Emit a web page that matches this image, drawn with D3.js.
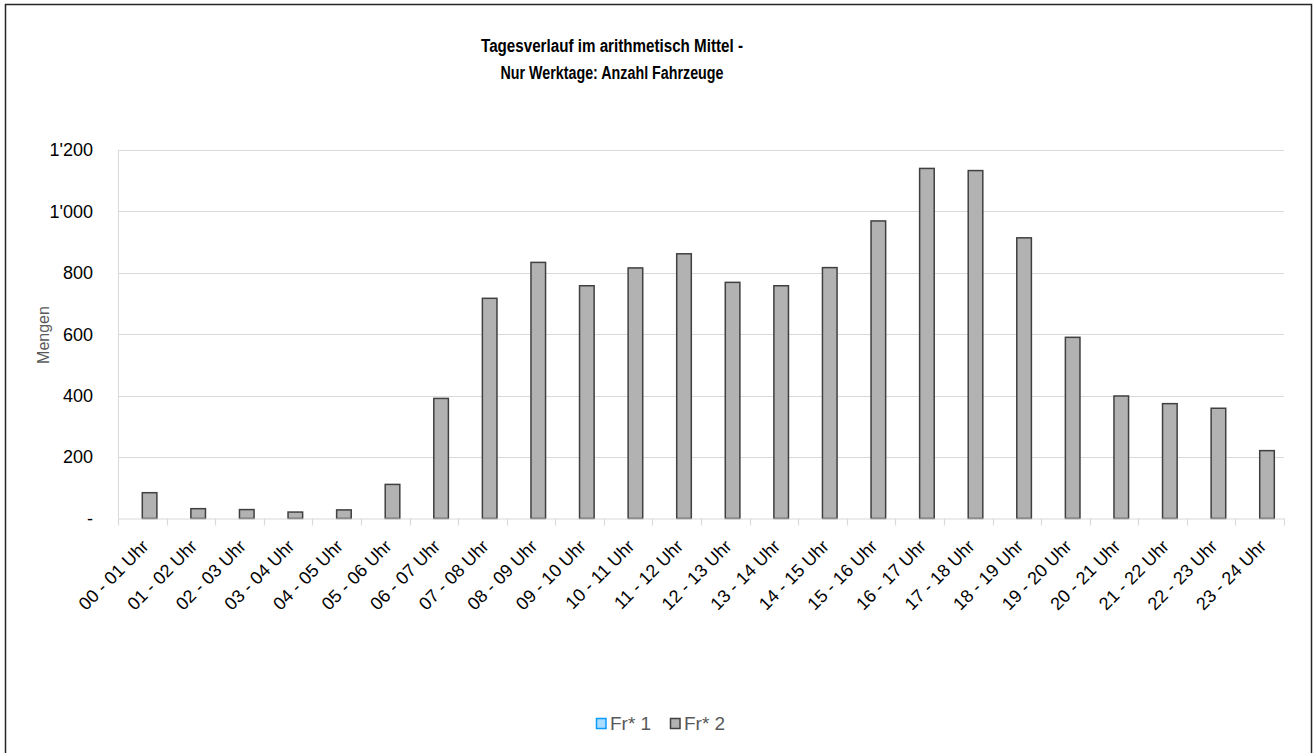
<!DOCTYPE html>
<html>
<head>
<meta charset="utf-8">
<script src="https://cdn.jsdelivr.net/npm/d3@7"></script>
<style>
  html, body { margin: 0; padding: 0; background: #fff; }
  svg { display: block; }
</style>
</head>
<body>
<svg id="chart" width="1314" height="753"></svg>
<script>
// ---- Data ----
const categories = [
  "00 - 01 Uhr","01 - 02 Uhr","02 - 03 Uhr","03 - 04 Uhr","04 - 05 Uhr","05 - 06 Uhr",
  "06 - 07 Uhr","07 - 08 Uhr","08 - 09 Uhr","09 - 10 Uhr","10 - 11 Uhr","11 - 12 Uhr",
  "12 - 13 Uhr","13 - 14 Uhr","14 - 15 Uhr","15 - 16 Uhr","16 - 17 Uhr","17 - 18 Uhr",
  "18 - 19 Uhr","19 - 20 Uhr","20 - 21 Uhr","21 - 22 Uhr","22 - 23 Uhr","23 - 24 Uhr"
];
const seriesNames = ["Fr* 1", "Fr* 2"];
const fr1Values = [null,null,null,null,null,null,null,null,null,null,null,null,
                   null,null,null,null,null,null,null,null,null,null,null,null];
const fr2Values = [84, 32, 29, 21, 28, 111, 391, 717, 834, 758, 816, 862,
                   769, 758, 817, 969, 1140, 1133, 914, 590, 399, 374, 359, 221];
const yTicks = [0, 200, 400, 600, 800, 1000, 1200];
const titleLines = ["Tagesverlauf im arithmetisch Mittel -", "Nur Werktage: Anzahl Fahrzeuge"];
const yTitle = "Mengen";

// ---- Layout ----
const svg = d3.select("#chart");
const plot = { left: 118, right: 1284, top: 150, bottom: 518.5 };
const seriesFill = { "Fr* 1": "#a9dcff", "Fr* 2": "#b2b2b2" };
const seriesStroke = { "Fr* 1": "#0a9bff", "Fr* 2": "#404040" };

// outer border
svg.append("rect")
  .attr("x", 5.5).attr("y", 4.5)
  .attr("width", 1306).attr("height", 760)
  .attr("fill", "#fff").attr("stroke", "#262626").attr("stroke-width", 1.5);

// scales
const x0 = d3.scaleBand().domain(categories).range([plot.left, plot.right]).paddingInner(0).paddingOuter(0);
const x1 = d3.scaleBand().domain(seriesNames).range([0, x0.bandwidth()]).paddingInner(0).paddingOuter(0.664);
const y = d3.scaleLinear().domain([0, 1200]).range([plot.bottom, plot.top]);

const loc = d3.formatLocale({ decimal: ".", thousands: "'", grouping: [3], currency: ["", ""] });
const fmt = v => v === 0 ? "-" : loc.format(",")(v);

// gridlines
svg.append("g").selectAll("line").data(yTicks.filter(d => d !== 0)).join("line")
  .attr("x1", plot.left).attr("x2", plot.right)
  .attr("y1", d => Math.round(y(d)) + 0.5).attr("y2", d => Math.round(y(d)) + 0.5)
  .attr("stroke", "#d9d9d9").attr("stroke-width", 1);

// left axis line
svg.append("line")
  .attr("x1", plot.left + 0.5).attr("x2", plot.left + 0.5)
  .attr("y1", y(1200)).attr("y2", plot.bottom)
  .attr("stroke", "#d9d9d9").attr("stroke-width", 1);

// y tick labels
svg.append("g").selectAll("text").data(yTicks).join("text")
  .attr("x", 93).attr("y", d => y(d)).attr("dy", "0.35em")
  .attr("text-anchor", "end")
  .attr("font-family", "'Liberation Sans', Arial, sans-serif")
  .attr("font-size", 18).attr("fill", "#000")
  .text(fmt);

// y title
svg.append("text")
  .attr("transform", "translate(49,335) rotate(-90)")
  .attr("text-anchor", "middle")
  .attr("font-family", "'Liberation Sans', Arial, sans-serif")
  .attr("font-size", 16).attr("fill", "#595959")
  .text(yTitle);

// bars
const rows = categories.map((c, i) => ({ cat: c, vals: [
  { s: "Fr* 1", v: fr1Values[i] }, { s: "Fr* 2", v: fr2Values[i] } ] }));
const groups = svg.append("g").selectAll("g").data(rows).join("g")
  .attr("transform", d => `translate(${x0(d.cat)},0)`);
groups.selectAll("rect").data(d => d.vals.filter(v => v.v != null)).join("rect")
  .attr("x", d => x1(d.s)).attr("width", x1.bandwidth())
  .attr("y", d => y(d.v)).attr("height", d => y(0) - y(d.v))
  .attr("fill", d => seriesFill[d.s]).attr("stroke", d => seriesStroke[d.s]).attr("stroke-width", 1.5);

// x axis line + ticks
const xAxisG = svg.append("g");
xAxisG.append("line")
  .attr("x1", plot.left).attr("x2", plot.right)
  .attr("y1", plot.bottom + 0.5).attr("y2", plot.bottom + 0.5)
  .attr("stroke", "#d9d9d9").attr("stroke-width", 1.2);
const tickPos = categories.map(c => x0(c)).concat([plot.right]);
xAxisG.selectAll("line.tk").data(tickPos).join("line").attr("class", "tk")
  .attr("x1", d => Math.round(d) + 0.5).attr("x2", d => Math.round(d) + 0.5)
  .attr("y1", plot.bottom).attr("y2", plot.bottom + 7)
  .attr("stroke", "#d9d9d9").attr("stroke-width", 1.2);

// x labels
svg.append("g").selectAll("text").data(categories).join("text")
  .attr("transform", d => `translate(${x0(d) + x0.bandwidth() / 2 + 3},543) rotate(-45)`)
  .attr("text-anchor", "end").attr("dy", "0.35em")
  .attr("font-family", "'Liberation Sans', Arial, sans-serif")
  .attr("font-size", 18).attr("fill", "#000")
  .text(d => d);

// title
const titleWidths = [262, 223];
svg.append("g").selectAll("text").data(titleLines).join("text")
  .attr("x", 612).attr("y", (d, i) => 52 + i * 27)
  .attr("text-anchor", "middle")
  .attr("font-family", "'Liberation Sans', Arial, sans-serif")
  .attr("font-weight", "bold").attr("font-size", 18).attr("fill", "#000")
  .attr("textLength", (d, i) => titleWidths[i]).attr("lengthAdjust", "spacingAndGlyphs")
  .text(d => d);

// legend
const legendItems = [ { s: "Fr* 1", x: 596 }, { s: "Fr* 2", x: 670 } ];
const lg = svg.append("g").selectAll("g").data(legendItems).join("g")
  .attr("transform", d => `translate(${d.x},718)`);
lg.append("rect").attr("x", 0.5).attr("y", 0.5).attr("width", 9.5).attr("height", 10)
  .attr("fill", d => seriesFill[d.s]).attr("stroke", d => seriesStroke[d.s]).attr("stroke-width", 1.5);
lg.append("text").attr("x", 14).attr("y", 5.5).attr("dy", "0.35em")
  .attr("font-family", "'Liberation Sans', Arial, sans-serif")
  .attr("font-size", 19).attr("fill", "#595959")
  .text(d => d.s);
</script>
</body>
</html>
